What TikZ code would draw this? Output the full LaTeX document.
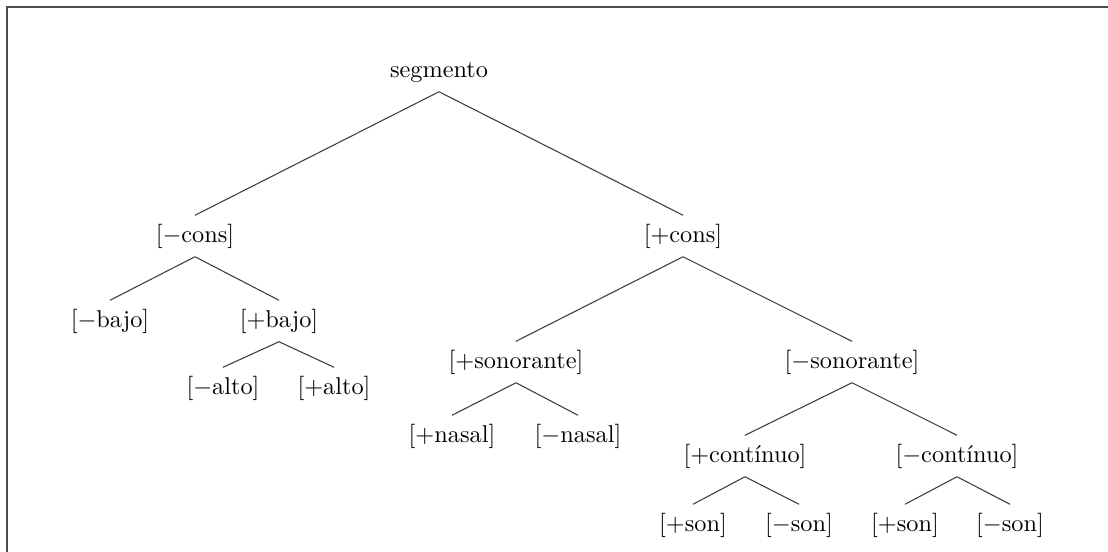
\documentclass[tikz,border=0pt]{standalone}
\begin{document}
\begin{tikzpicture}[x=0.4115pt,y=-0.4115pt,
  feat/.style={inner sep=0.3333em,text height=7.5pt,text depth=2.5pt,font=\normalsize},
  branch/.style={draw=black!75,line width=0.45pt},
  frame/.style={draw=black!70,line width=0.9pt}]
\useasboundingbox (0,0) rectangle (1108,552);
\draw[frame] (7,552) -- (7,7) -- (1108,7);
\node[feat] (seg) at (439,71) {segmento};
\node[feat] (mcons) at (195,236) {[$-$cons]};
\node[feat] (pcons) at (683,236) {[$+$cons]};
\node[feat] (mbajo) at (110,321) {[$-$bajo]};
\node[feat] (pbajo) at (279,321) {[$+$bajo]};
\node[feat] (malto) at (223,388) {[$-$alto]};
\node[feat] (palto) at (334,388) {[$+$alto]};
\node[feat] (pson) at (516,362) {[$+$sonorante]};
\node[feat] (mson) at (852,362) {[$-$sonorante]};
\node[feat] (pnas) at (452,436) {[$+$nasal]};
\node[feat] (mnas) at (578,436) {[$-$nasal]};
\node[feat] (pcont) at (745,456) {[$+$cont\'{\i}nuo]};
\node[feat] (mcont) at (957,456) {[$-$cont\'{\i}nuo]};
\node[feat] (s1) at (693,525) {[$+$son]};
\node[feat] (s2) at (799,525) {[$-$son]};
\node[feat] (s3) at (905,525) {[$+$son]};
\node[feat] (s4) at (1010,525) {[$-$son]};
\foreach \p/\c in {seg/mcons,seg/pcons,mcons/mbajo,mcons/pbajo,pbajo/malto,pbajo/palto,
  pcons/pson,pcons/mson,pson/pnas,pson/mnas,mson/pcont,mson/mcont,
  pcont/s1,pcont/s2,mcont/s3,mcont/s4}
  \draw[branch] (\p.south) -- (\c.north);
\end{tikzpicture}
\end{document}
